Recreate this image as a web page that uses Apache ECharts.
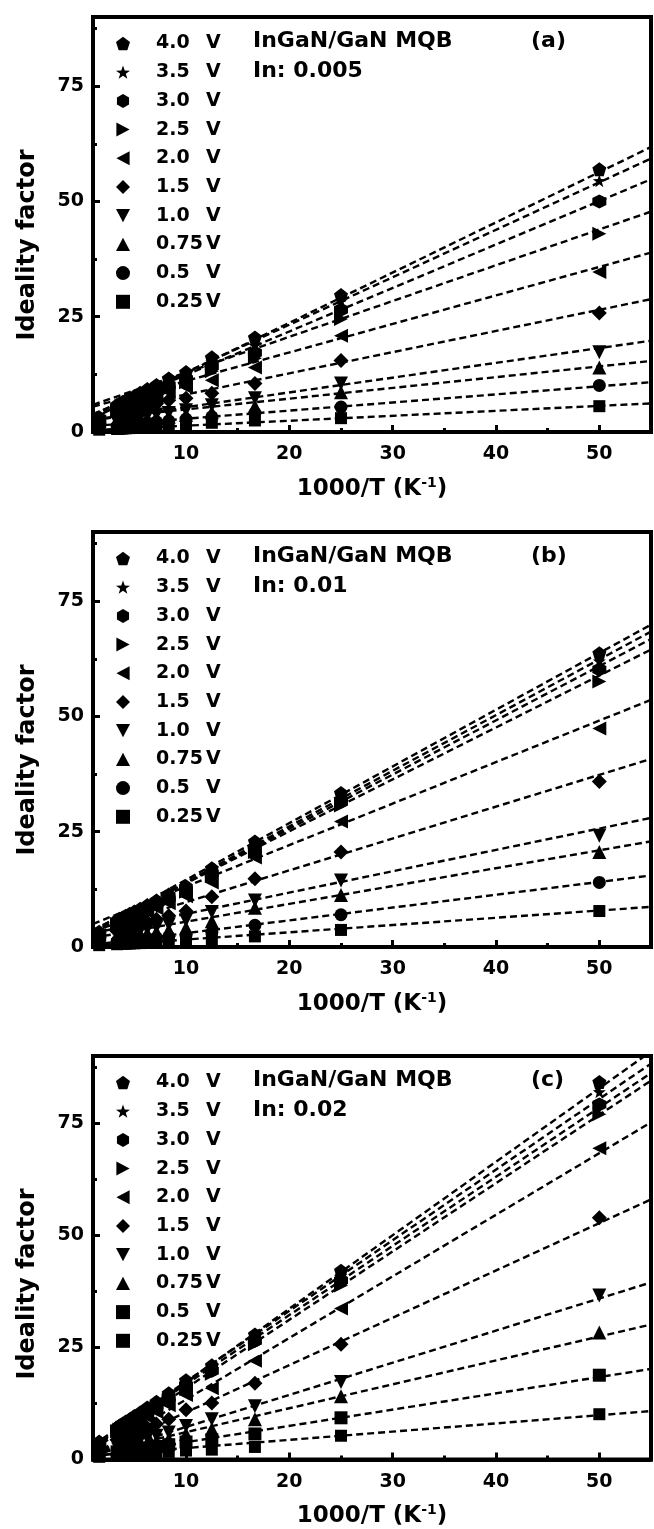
<!DOCTYPE html>
<html>
<head>
<meta charset="utf-8">
<script src="https://cdn.jsdelivr.net/npm/echarts@6/dist/echarts.min.js"></script>
<style>
  html, body { margin: 0; padding: 0; background: #fff; }
  #chart { width: 654px; height: 1529px; }
</style>
</head>
<body>
<div id="chart"></div>
<script>
// 1000/T (K^-1) of the measured temperatures
const invT = [50, 25, 16.67, 12.5, 10, 8.33, 7.14, 6.25, 5.56, 5.0, 4.55, 4.17, 3.85, 3.57, 3.33, 1.6];

// bias voltages, top legend entry first
const voltages = ['4.0', '3.5', '3.0', '2.5', '2.0', '1.5', '1.0', '0.75', '0.5', '0.25'];

// ideality factor, one row per voltage, columns follow invT
const idealityA = [
  [57.0, 29.7, 20.5, 16.2, 13.0, 11.6, 10.2, 9.3, 8.5, 7.8, 7.3, 6.9, 6.5, 6.2, 5.9, 3.2],
  [54.5, 28.4, 18.8, 15.2, 12.3, 10.8, 9.6, 8.7, 7.9, 7.3, 6.8, 6.4, 6.0, 5.7, 5.4, 2.9],
  [50.0, 26.5, 17.2, 14.2, 11.5, 10.1, 9.0, 8.1, 7.4, 6.8, 6.3, 5.9, 5.6, 5.3, 5.0, 2.7],
  [43.0, 24.5, 16.0, 13.2, 10.8, 9.4, 8.4, 7.6, 6.9, 6.3, 5.9, 5.5, 5.2, 4.9, 4.6, 2.5],
  [34.7, 20.9, 14.0, 11.2, 9.7, 8.6, 7.6, 6.9, 6.3, 5.8, 5.4, 5.0, 4.7, 4.4, 4.2, 2.3],
  [25.8, 15.5, 10.5, 8.4, 7.3, 6.9, 6.1, 5.6, 5.1, 4.7, 4.4, 4.1, 3.8, 3.6, 3.4, 1.9],
  [17.3, 10.5, 7.3, 5.8, 4.7, 4.1, 3.8, 3.5, 3.2, 3.0, 2.8, 2.6, 2.5, 2.3, 2.2, 1.5],
  [14.0, 8.6, 5.6, 4.3, 3.7, 3.3, 3.0, 2.8, 2.6, 2.4, 2.3, 2.1, 2.0, 1.9, 1.8, 1.2],
  [10.1, 5.4, 4.1, 3.3, 2.8, 2.4, 2.2, 2.0, 1.9, 1.8, 1.7, 1.6, 1.5, 1.4, 1.3, 0.9],
  [5.6, 3.0, 2.5, 2.0, 1.7, 1.4, 1.2, 1.1, 1.0, 0.9, 0.85, 0.8, 0.75, 0.7, 0.65, 0.5]
];
const idealityB = [
  [63.7, 33.4, 22.9, 17.1, 13.2, 11.4, 10.1, 9.1, 8.3, 7.7, 7.2, 6.8, 6.4, 6.1, 5.8, 3.3],
  [62.0, 32.2, 22.0, 16.5, 12.8, 11.0, 9.8, 8.8, 8.0, 7.4, 6.9, 6.5, 6.1, 5.8, 5.5, 3.1],
  [60.2, 31.5, 21.3, 16.0, 12.4, 10.6, 9.4, 8.5, 7.7, 7.1, 6.6, 6.2, 5.9, 5.6, 5.3, 3.0],
  [57.6, 30.7, 20.6, 15.4, 12.0, 10.2, 9.0, 8.1, 7.4, 6.8, 6.3, 5.9, 5.6, 5.3, 5.0, 2.8],
  [47.4, 27.2, 19.4, 14.0, 11.0, 9.5, 8.4, 7.6, 6.9, 6.4, 5.9, 5.5, 5.2, 4.9, 4.7, 2.6],
  [35.9, 20.6, 14.8, 10.9, 7.8, 6.8, 6.0, 5.4, 5.0, 4.6, 4.3, 4.0, 3.8, 3.6, 3.4, 2.0],
  [24.1, 14.4, 10.1, 7.6, 5.8, 4.9, 4.3, 3.9, 3.6, 3.3, 3.1, 2.9, 2.7, 2.6, 2.5, 1.6],
  [20.6, 11.3, 8.5, 5.6, 4.2, 3.7, 3.3, 3.0, 2.8, 2.6, 2.4, 2.3, 2.2, 2.1, 2.0, 1.3],
  [14.0, 7.0, 4.7, 3.2, 2.5, 2.2, 2.0, 1.8, 1.7, 1.6, 1.5, 1.4, 1.35, 1.3, 1.25, 0.9],
  [7.8, 3.7, 2.3, 1.6, 1.2, 1.1, 1.0, 0.9, 0.85, 0.8, 0.75, 0.7, 0.7, 0.65, 0.6, 0.4]
];
const idealityC = [
  [84.2, 42.1, 27.9, 21.0, 17.7, 14.8, 12.9, 11.6, 10.5, 9.7, 9.0, 8.5, 8.0, 7.6, 7.2, 4.0],
  [82.0, 41.0, 27.2, 20.4, 17.1, 14.3, 12.4, 11.1, 10.1, 9.3, 8.7, 8.1, 7.7, 7.3, 6.9, 3.8],
  [79.2, 39.9, 26.5, 19.8, 16.5, 13.8, 12.0, 10.7, 9.7, 8.9, 8.3, 7.8, 7.4, 7.0, 6.6, 3.6],
  [77.0, 38.8, 25.7, 19.1, 15.8, 13.3, 11.5, 10.3, 9.3, 8.6, 8.0, 7.5, 7.1, 6.7, 6.3, 3.4],
  [69.4, 33.7, 22.0, 15.9, 14.4, 12.1, 10.6, 9.5, 8.6, 7.9, 7.3, 6.8, 6.4, 6.0, 5.7, 3.1],
  [53.9, 25.7, 17.0, 12.6, 11.1, 9.0, 7.9, 7.1, 6.5, 6.0, 5.6, 5.2, 4.9, 4.6, 4.4, 2.5],
  [36.6, 17.3, 11.9, 9.0, 7.5, 6.0, 5.3, 4.8, 4.4, 4.1, 3.8, 3.5, 3.3, 3.1, 3.0, 1.8],
  [28.3, 14.1, 9.0, 6.8, 5.7, 4.6, 4.1, 3.7, 3.4, 3.2, 3.0, 2.8, 2.6, 2.5, 2.4, 1.4],
  [18.8, 9.3, 5.7, 4.4, 3.9, 3.3, 2.9, 2.6, 2.4, 2.2, 2.1, 2.0, 1.9, 1.8, 1.7, 1.0],
  [10.1, 5.3, 2.8, 2.2, 2.0, 1.7, 1.5, 1.4, 1.3, 1.2, 1.1, 1.05, 1.0, 0.95, 0.9, 0.6]
];

// linear fits: ideality factor at the two ends of the x range
const fitX = [1, 55];
const fitA = [[3.0, 61.8], [3.7, 59.3], [3.9, 54.8], [5.9, 47.8], [5.5, 38.9], [4.0, 28.8], [2.5, 19.8], [2.8, 15.4], [1.3, 10.8], [0.4, 6.2]];
const fitB = [[3.5, 69.9], [3.2, 68.4], [3.3, 66.8], [3.7, 64.5], [5.0, 53.6], [3.5, 40.8], [3.0, 28.0], [2.0, 22.9], [0.5, 15.5], [0.2, 8.7]];
const fitC = [[2.5, 91.0], [3.2, 88.3], [2.9, 86.2], [2.2, 84.5], [1.0, 75.2], [1.0, 58.0], [0.8, 39.5], [1.3, 30.1], [0.6, 20.2], [0.9, 10.8]];

// axis ticks
const xTicks = [10, 20, 30, 40, 50];
const xMinorTicks = [5, 15, 25, 35, 45];
const yTicks = [0, 25, 50, 75];
const yMinorTicks = [12.5, 37.5, 62.5, 87.5];

const panelTags = ['(a)', '(b)', '(c)'];
const sampleTitle = 'InGaN/GaN MQB';
const indiumLabels = ['In: 0.005', 'In: 0.01', 'In: 0.02'];
const yTitle = 'Ideality factor';

// ---- drawing ----
const FONT = '"DejaVu Sans", "Liberation Sans", Arial, sans-serif';
const SYM = {
  pentagon: 'path://M0,-10L9.51,-3.09L5.88,8.09L-5.88,8.09L-9.51,-3.09Z',
  star: 'path://M0,-10L2.35,-3.24L9.51,-3.09L3.8,1.24L5.88,8.09L0,4L-5.88,8.09L-3.8,1.24L-9.51,-3.09L-2.35,-3.24Z',
  hexagon: 'path://M0,-10L8.66,-5L8.66,5L0,10L-8.66,5L-8.66,-5Z',
  right: 'path://M-8,-9L9,0L-8,9Z',
  left: 'path://M8,-9L-9,0L8,9Z',
  diamond: 'path://M0,-10L10,0L0,10L-10,0Z',
  down: 'path://M-9,-8L9,-8L0,9Z',
  up: 'path://M0,-9L9,8L-9,8Z'
};
const symbolsAB = [SYM.pentagon, SYM.star, SYM.hexagon, SYM.right, SYM.left, SYM.diamond, SYM.down, SYM.up, 'circle', 'rect'];
const symbolsC = [SYM.pentagon, SYM.star, SYM.hexagon, SYM.right, SYM.left, SYM.diamond, SYM.down, SYM.up, 'rect', 'rect'];
const symbolSizes = [14, 13, 14, 14, 14, 15, 14, 14, 13, 12];

const panels = [
  { values: idealityA, fits: fitA, symbols: symbolsAB, top: 17 },
  { values: idealityB, fits: fitB, symbols: symbolsAB, top: 532 },
  { values: idealityC, fits: fitC, symbols: symbolsC, top: 1056 }
];
const GRID_LEFT = 93, GRID_W = 558, GRID_H = 415;

const grid = [], xAxis = [], yAxis = [], series = [], legend = [], graphic = [];
const labelStyle = { color: '#000', fontFamily: FONT, fontWeight: 'bold', fontSize: 19 };

panels.forEach((p, pi) => {
  grid.push({ left: GRID_LEFT, top: p.top, width: GRID_W, height: GRID_H, show: true,
    borderColor: '#000', borderWidth: 4, backgroundColor: 'transparent' });

  // major axis with labels
  xAxis.push({
    gridIndex: pi, type: 'value', min: 1, max: 55, position: 'bottom',
    axisLine: { show: true, onZero: false, lineStyle: { color: '#000', width: 4 } },
    axisTick: { show: true, inside: true, length: 7, customValues: xTicks, lineStyle: { color: '#000', width: 3 } },
    axisLabel: { show: true, customValues: xTicks, margin: 13, ...labelStyle },
    splitLine: { show: false },
    name: '{t|1000/T (K}{s|-1}{t|)}', nameLocation: 'middle', nameGap: 44,
    nameTextStyle: { rich: {
      t: { fontFamily: FONT, fontWeight: 'bold', fontSize: 23, color: '#000' },
      s: { fontFamily: FONT, fontWeight: 'bold', fontSize: 14, color: '#000', verticalAlign: 'top', padding: [0, 0, 12, 0] }
    } }
  });
  // minor ticks
  xAxis.push({
    gridIndex: pi, type: 'value', min: 1, max: 55, position: 'bottom',
    axisLine: { show: false, onZero: false },
    axisTick: { show: true, inside: true, length: 4, customValues: xMinorTicks, lineStyle: { color: '#000', width: 3 } },
    axisLabel: { show: false }, splitLine: { show: false }
  });
  yAxis.push({
    gridIndex: pi, type: 'value', min: 0, max: 90, position: 'left',
    axisLine: { show: true, onZero: false, lineStyle: { color: '#000', width: 4 } },
    axisTick: { show: true, inside: true, length: 7, customValues: yTicks, lineStyle: { color: '#000', width: 3 } },
    axisLabel: { show: true, customValues: yTicks, margin: 9, ...labelStyle },
    splitLine: { show: false }
  });
  yAxis.push({
    gridIndex: pi, type: 'value', min: 0, max: 90, position: 'left',
    axisLine: { show: false, onZero: false },
    axisTick: { show: true, inside: true, length: 4, customValues: yMinorTicks, lineStyle: { color: '#000', width: 3 } },
    axisLabel: { show: false }, splitLine: { show: false }
  });

  // dashed linear fits
  p.fits.forEach((f) => {
    series.push({
      type: 'line', xAxisIndex: pi * 2, yAxisIndex: pi * 2, silent: true,
      symbol: 'none', showSymbol: false, z: 2,
      lineStyle: { color: '#000', width: 2.4, type: [7, 4] },
      data: [[fitX[0], f[0]], [fitX[1], f[1]]]
    });
  });

  // measured points
  const names = [];
  p.values.forEach((row, vi) => {
    const name = pi + '|' + voltages[vi] + ' V';
    names.push(name);
    series.push({
      type: 'scatter', name: name, xAxisIndex: pi * 2, yAxisIndex: pi * 2, silent: true, z: 3,
      symbol: p.symbols[vi], symbolSize: symbolSizes[vi],
      itemStyle: { color: '#000', opacity: 1 },
      data: invT.map((x, i) => [x, row[i]])
    });
  });

  legend.push({
    data: names, orient: 'vertical', left: 111, top: p.top + 12,
    itemWidth: 14, itemHeight: 14, itemGap: 9.7, selectedMode: false,
    formatter: (n) => '{n|' + n.split('|')[1].replace(' V', '') + '}{u|V}',
    textStyle: { rich: {
      n: { fontFamily: FONT, fontWeight: 'bold', fontSize: 19, color: '#000', width: 50, padding: [0, 0, 0, 21], lineHeight: 20 },
      u: { fontFamily: FONT, fontWeight: 'bold', fontSize: 19, color: '#000', lineHeight: 20 }
    } }
  });

  const tstyle = { fill: '#000', font: 'bold 22px ' + FONT, textVerticalAlign: 'middle' };
  graphic.push({ type: 'text', x: 253, y: p.top + 24, style: { ...tstyle, text: sampleTitle } });
  graphic.push({ type: 'text', x: 253, y: p.top + 54, style: { ...tstyle, text: indiumLabels[pi] } });
  graphic.push({ type: 'text', x: 531, y: p.top + 24, style: { ...tstyle, text: panelTags[pi] } });
  // y-axis title
  graphic.push({ type: 'text', x: 28, y: p.top + 228, rotation: Math.PI / 2,
    style: { fill: '#000', font: 'bold 24px ' + FONT, text: yTitle, textAlign: 'center', textVerticalAlign: 'middle' } });
});

const chart = echarts.init(document.getElementById('chart'), null, { renderer: 'canvas' });
chart.setOption({
  animation: false,
  backgroundColor: '#fff',
  grid, xAxis, yAxis, series, legend, graphic
});
</script>
</body>
</html>
